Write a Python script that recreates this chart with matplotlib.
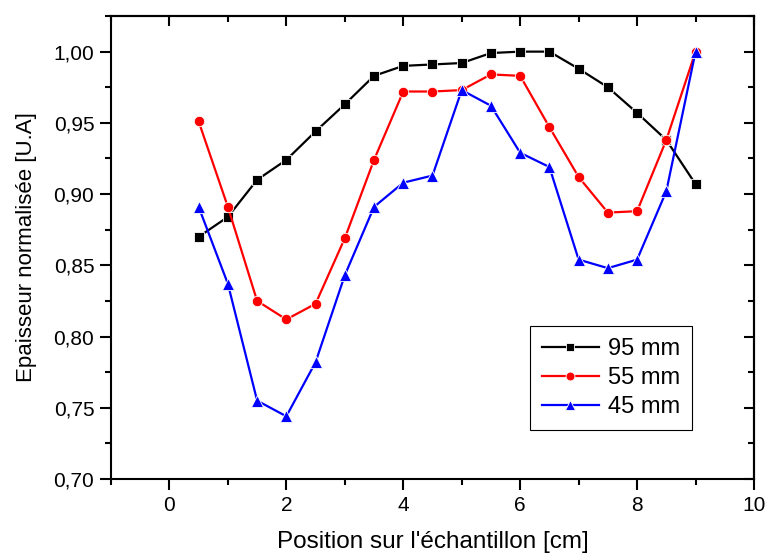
import matplotlib.pyplot as plt
from matplotlib.ticker import MultipleLocator, FuncFormatter

plt.rcParams['font.family'] = ['Liberation Sans', 'DejaVu Sans']

position = [0.5, 1.0, 1.5, 2.0, 2.5, 3.0, 3.5, 4.0, 4.5, 5.0,
            5.5, 6.0, 6.5, 7.0, 7.5, 8.0, 8.5, 9.0]

ep_95 = [0.870, 0.884, 0.910, 0.924, 0.944, 0.963, 0.983, 0.990, 0.991, 0.992,
         0.999, 1.000, 1.000, 0.988, 0.975, 0.957, 0.938, 0.907]
ep_55 = [0.951, 0.891, 0.825, 0.812, 0.823, 0.869, 0.924, 0.972, 0.972, 0.973,
         0.984, 0.983, 0.947, 0.912, 0.887, 0.888, 0.938, 1.000]
ep_45 = [0.891, 0.837, 0.755, 0.744, 0.782, 0.843, 0.891, 0.908, 0.913, 0.973,
         0.962, 0.929, 0.919, 0.854, 0.848, 0.854, 0.902, 1.000]

series = [("95 mm", ep_95, 'black', 's', 6.5),
          ("55 mm", ep_55, 'red', 'o', 7.5),
          ("45 mm", ep_45, 'blue', '^', 8.5)]

fig = plt.figure(figsize=(7.69, 5.56), dpi=100)
ax = fig.add_axes([0.1443, 0.1385, 0.8362, 0.8327])

for label, vals, col, mk, ms in series:
    ax.plot(position, vals, color=col, lw=1.6, marker=mk, ms=ms,
            markeredgecolor='white', markeredgewidth=0.6, label=label)

ax.set_xlim(-1, 10)
ax.set_ylim(0.70, 1.025)
ax.xaxis.set_major_locator(MultipleLocator(2))
ax.xaxis.set_minor_locator(MultipleLocator(1))
ax.yaxis.set_major_locator(MultipleLocator(0.05))
ax.yaxis.set_minor_locator(MultipleLocator(0.025))
ax.yaxis.set_major_formatter(FuncFormatter(lambda v, p: f"{v:.2f}".replace('.', ',')))

for s in ax.spines.values():
    s.set_linewidth(1.5)
ax.tick_params(which='major', direction='out', length=8, width=1.5, labelsize=15, pad=4)
ax.tick_params(which='minor', direction='out', length=4.5, width=1.5)

# ticks pointing inward on the opposite sides
top = ax.secondary_xaxis('top')
top.xaxis.set_major_locator(MultipleLocator(2))
top.xaxis.set_minor_locator(MultipleLocator(1))
top.tick_params(which='major', direction='in', length=7, width=1.5, labeltop=False)
top.tick_params(which='minor', direction='in', length=4, width=1.5)
right = ax.secondary_yaxis('right')
right.yaxis.set_major_locator(MultipleLocator(0.05))
right.yaxis.set_minor_locator(MultipleLocator(0.025))
right.tick_params(which='major', direction='in', length=7, width=1.5, labelright=False)
right.tick_params(which='minor', direction='in', length=4, width=1.5)
for s in list(top.spines.values()) + list(right.spines.values()):
    s.set_linewidth(1.5)

ax.set_xlabel("Position sur l'échantillon [cm]", fontsize=17.5, labelpad=12)
ax.set_ylabel("Epaisseur normalisée [U.A]", fontsize=16, labelpad=12)

leg = ax.legend(loc='lower right', bbox_to_anchor=(0.922, 0.08), fontsize=17,
                frameon=True, fancybox=False, edgecolor='black', framealpha=1,
                handlelength=2.4, handletextpad=0.4, markerscale=0.85,
                borderpad=0.5, labelspacing=0.3)
leg.get_frame().set_linewidth(0.8)

fig.savefig('out.png', dpi=100)
